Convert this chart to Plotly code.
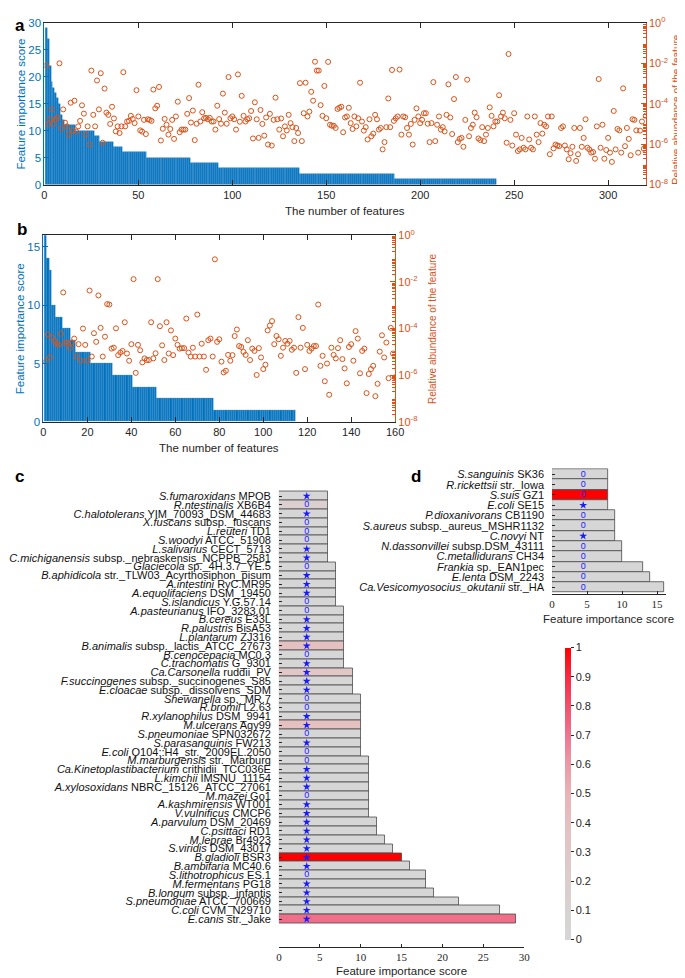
import plotly.graph_objects as go

W, H = 685, 978
BLUE = "#0072BD"
ORANGE = "#D95319"
INK = "#262626"
SANS = "Liberation Sans, Arial, sans-serif"
SERIF = "Liberation Serif, Times New Roman, serif"

# ---------------- Panel a data ----------------
a_scores = [29, 27, 22, 19, 18, 17, 16, 15, 13, 12,
            11, 11, 11, 11, 11, 11,
            10, 10, 10, 10, 10, 10, 10, 10, 10, 10,
            9, 9, 9,
            8, 8, 8, 8, 8, 8, 8,
            7, 7, 7, 7, 7,
            6, 6, 6, 6, 6, 6, 6, 6, 6, 6, 6, 6, 6,
            5, 5, 5, 5, 5, 5, 5, 5, 5, 5, 5, 5, 5, 5, 5, 5, 5, 5, 5, 5, 5, 5, 5,
            4, 4, 4, 4, 4, 4, 4, 4, 4, 4, 4, 4, 4, 4, 4,
            3, 3, 3, 3, 3, 3, 3, 3, 3, 3, 3, 3, 3, 3, 3, 3, 3, 3, 3, 3, 3, 3,
            3, 3, 3, 3, 3, 3, 3, 3, 3, 3, 3, 3, 3, 3, 3, 3, 3, 3, 3, 3, 3,
            2, 2, 2, 2, 2, 2, 2, 2, 2, 2, 2, 2, 2, 2, 2, 2, 2, 2, 2, 2, 2, 2, 2, 2, 2, 2,
            2, 2, 2, 2, 2, 2, 2, 2, 2, 2, 2, 2, 2, 2, 2, 2, 2, 2, 2, 2, 2, 2, 2, 2, 2,
            1, 1, 1, 1, 1, 1, 1, 1, 1, 1, 1, 1, 1, 1, 1, 1, 1, 1, 1, 1, 1, 1, 1, 1, 1, 1, 1,
            1, 1, 1, 1, 1, 1, 1, 1, 1, 1, 1, 1, 1, 1, 1, 1, 1, 1, 1, 1, 1, 1, 1, 1, 1, 1, 1]

# log10 of relative abundance, features 1..320
a_log_abund = [
    -2.11, -5.02, -4.76, -4.28, -5.00, -4.76, -4.68, -2.00, -5.22, -4.28,
    -4.94, -5.12, -5.53, -3.95, -5.33, -3.85, -5.38, -5.12, -4.85, -4.08,
    -4.49, -5.53, -5.12, -6.02, -2.36, -4.55, -5.12, -2.85, -4.28, -2.49,
    -5.93, -3.25, -4.44, -4.55, -5.00, -4.15, -4.73, -5.37, -5.12, -5.45,
    -5.12, -2.44, -5.12, -4.88, -4.85, -4.60, -4.75, -4.96, -3.33, -4.63,
    -5.32, -5.38, -4.80, -5.50, -4.77, -4.80, -4.85, -3.30, -4.23, -4.10,
    -3.17, -5.82, -5.24, -4.75, -5.04, -5.53, -5.25, -4.80, -5.74, -4.63,
    -3.90, -5.41, -5.28, -5.28, -5.28, -4.50, -3.72, -4.93, -4.34, -5.80,
    -4.99, -3.06, -4.88, -4.42, -4.72, -4.70, -4.77, -4.70, -4.88, -4.88,
    -5.28, -4.10, -4.76, -4.99, -3.50, -4.44, -4.99, -2.68, -4.72, -4.63,
    -4.77, -5.28, -2.55, -4.89, -3.61, -4.60, -4.88, -4.77, -4.72, -4.36,
    -5.72, -3.93, -4.77, -5.69, -4.31, -5.00, -5.58, -4.68, -6.02, -4.50,
    -6.07, -4.80, -3.70, -4.77, -5.28, -4.73, -5.61, -5.12, -5.32, -4.55,
    -4.96, -5.16, -5.85, -5.20, -5.45, -2.98, -5.85, -4.47, -2.96, -4.63,
    -4.39, -3.41, -3.85, -1.92, -2.36, -2.36, -4.07, -4.60, -3.12, -4.72,
    -1.93, -5.04, -5.09, -5.09, -5.20, -4.26, -4.20, -4.15, -5.41, -4.68,
    -4.63, -4.20, -4.96, -5.25, -4.63, -5.12, -4.72, -2.96, -4.88, -5.33,
    -5.16, -5.77, -4.77, -5.61, -5.48, -4.55, -4.77, -5.28, -5.20, -6.26,
    -5.90, -5.16, -3.74, -5.16, -2.33, -4.85, -4.72, -4.63, -2.31, -5.53,
    -4.63, -4.67, -5.20, -5.53, -5.00, -6.02, -4.80, -4.23, -4.63, -4.96,
    -4.80, -4.47, -4.47, -4.99, -5.90, -4.96, -2.93, -5.85, -5.04, -4.63,
    -5.28, -5.16, -5.37, -4.55, -3.04, -4.68, -5.50, -3.77, -2.68, -5.90,
    -5.74, -5.69, -6.13, -4.80, -2.81, -5.61, -5.20, -5.04, -4.44, -4.67,
    -5.72, -5.80, -5.16, -5.85, -5.53, -5.20, -4.18, -4.60, -5.12, -4.88,
    -4.88, -3.58, -4.63, -4.44, -4.72, -5.93, -1.54, -4.80, -6.07, -4.47,
    -5.53, -6.34, -6.26, -5.69, -6.18, -6.26, -4.63, -5.77, -6.18, -6.26,
    -4.63, -5.53, -5.90, -4.96, -5.48, -5.04, -5.12, -4.63, -6.50, -4.63,
    -6.21, -6.02, -6.07, -6.10, -5.20, -5.12, -6.07, -6.26, -6.75, -6.45,
    -6.13, -5.20, -6.83, -6.50, -5.20, -6.13, -5.69, -4.77, -6.18, -6.26,
    -6.42, -6.39, -6.72, -5.12, -2.78, -6.18, -5.04, -6.72, -6.29, -5.69,
    -6.42, -6.88, -4.36, -6.26, -5.25, -5.32, -6.42, -3.24, -6.10, -5.20,
    -5.74, -6.55, -4.77, -4.80, -5.32, -6.42, -5.33, -4.88, -6.23, -4.60]

# ---------------- Panel b data ----------------
b_scores = [16, 14, 13, 10, 10, 9, 9, 9, 8, 8, 8, 8, 7, 7,
            6, 6, 6, 6, 6, 6, 6,
            5, 5, 5, 5, 5, 5, 5, 5, 5, 5,
            4, 4, 4, 4, 4, 4, 4, 4, 4,
            3, 3, 3, 3, 3, 3, 3, 3, 3, 3, 3,
            2, 2, 2, 2, 2, 2, 2, 2, 2, 2, 2, 2, 2, 2, 2, 2, 2, 2, 2, 2, 2, 2, 2, 2, 2, 2,
            1, 1, 1, 1, 1, 1, 1, 1, 1, 1, 1, 1, 1, 1, 1, 1, 1, 1, 1, 1,
            1, 1, 1, 1, 1, 1, 1, 1, 1, 1, 1, 1, 1, 1, 1, 1, 1]

b_log_abund = [
    -5.42, -4.25, -5.24, -4.39, -4.53, -4.65, -4.70, -4.22, -2.45, -4.60,
    -4.60, -4.84, -4.60, -4.43, -5.20, -4.67, -5.38, -4.00, -4.70, -5.38,
    -2.37, -5.20, -4.20, -4.57, -2.58, -3.97, -5.20, -4.35, -2.95, -2.97,
    -4.86, -4.82, -3.99, -5.14, -5.03, -4.96, -3.73, -5.07, -5.38, -4.67,
    -1.88, -5.90, -4.70, -4.93, -5.45, -5.28, -5.35, -5.35, -3.73, -5.28,
    -5.06, -1.88, -3.90, -4.72, -5.35, -3.73, -5.07, -4.08, -5.14, -4.43,
    -4.70, -4.86, -4.84, -4.84, -3.57, -5.03, -5.20, -4.82, -5.20, -3.40,
    -5.20, -4.65, -5.20, -5.77, -4.50, -4.43, -5.20, -1.03, -4.57, -4.46,
    -5.42, -5.88, -5.81, -5.13, -5.38, -5.14, -4.32, -4.04, -4.75, -4.79,
    -5.00, -5.13, -4.50, -5.35, -4.86, -4.96, -5.99, -4.84, -5.24, -5.74,
    -5.55, -4.08, -3.87, -3.68, -4.67, -4.32, -4.46, -5.17, -4.82, -4.53,
    -4.65, -4.53, -4.91, -4.82, -5.90, -3.51, -4.82, -3.97, -5.74, -4.70,
    -4.96, -4.86, -4.75, -4.75, -2.97, -5.60, -5.17, -6.26, -5.50, -6.84,
    -4.82, -5.13, -5.28, -4.84, -4.50, -5.31, -5.71, -6.35, -4.79, -4.67,
    -5.38, -4.11, -4.43, -5.92, -4.96, -4.86, -6.77, -5.95, -5.74, -5.60,
    -6.90, -6.37, -4.99, -4.29, -5.24, -4.60, -6.13, -3.97, -5.07, -6.09]

# ---------------- Panel c data ----------------
c_italic = ["S.fumaroxidans", "R.ntestinalis", "C.halotolerans", "X.fuscans", "L.reuteri",
            "S.woodyi", "L.salivarius", "C.michiganensis", "Glaciecola", "B.aphidicola",
            "A.intestini", "A.equolifaciens", "S.islandicus", "A.pasteurianus", "B.cereus",
            "R.palustris", "L.plantarum", "B.animalis", "B.cenocepacia", "C.trachomatis",
            "Ca.Carsonella", "F.succinogenes", "E.cloacae", "Shewanella", "R.bromii",
            "R.xylanophilus", "M.ulcerans", "S.pneumoniae", "S.parasanguinis", "E.coli",
            "M.marburgensis", "Ca.Kinetoplastibacterium", "L.kimchii", "A.xylosoxidans", "M.mazei",
            "A.kashmirensis", "V.vulnificus", "A.parvulum", "C.psittaci", "M.leprae",
            "S.viridis", "B.gladioli", "B.ambifaria", "S.lithotrophicus", "M.fermentans",
            "B.longum", "S.pneumoniae", "C.coli", "E.canis"]
c_strain = ["MPOB", "XB6B4", "YIM_70093_DSM_44683", "subsp._fuscans", "TD1",
            "ATCC_51908", "CECT_5713", "subsp._nebraskensis_NCPPB_2581", "sp._4H.3.7_YE.5",
            "str._TLW03_Acyrthosiphon_pisum",
            "RyC.MR95", "DSM_19450", "Y.G.57.14", "IFO_3283.01", "E33L",
            "BisA53", "ZJ316", "subsp._lactis_ATCC_27673", "MC0.3", "G_9301",
            "ruddii_PV", "subsp._succinogenes_S85", "subsp._dissolvens_SDM", "sp._MR.7", "L2.63",
            "DSM_9941", "Agy99", "SPN032672", "FW213", "O104::H4_str._2009EL.2050",
            "str._Marburg", "crithidii_TCC036E", "IMSNU_11154", "NBRC_15126_ATCC_27061", "Go1",
            "WT001", "CMCP6", "DSM_20469", "RD1", "Br4923",
            "DSM_43017", "BSR3", "MC40.6", "ES.1", "PG18",
            "subsp._infantis", "ATCC_700669", "CVM_N29710", "str._Jake"]
c_scores = [6, 6, 6, 6, 6, 6, 6, 6, 7, 7,
            7, 7, 7, 8, 8, 8, 8, 8, 8, 8,
            9, 9, 9, 10, 10, 10, 10, 10, 10, 10,
            11, 11, 11, 11, 11, 11, 11, 12, 12, 13,
            14, 15, 16, 18, 18, 19, 22, 27, 29]
c_color_value = [0, 0.15, 0, 0, 0, 0, 0, 0, 0, 0,
                 0, 0, 0, 0, 0, 0, 0, 0.4, 0, 0,
                 0.3, 0, 0, 0, 0, 0, 0.4, 0, 0, 0,
                 0, 0, 0, 0, 0, 0, 0, 0, 0, 0,
                 0, 1.0, 0, 0, 0, 0, 0, 0, 0.72]
c_mark = ["*", "o", "*", "o", "o", "o", "*", "*", "o", "*",
          "*", "*", "o", "o", "*", "*", "*", "*", "o", "*",
          "*", "*", "*", "o", "o", "*", "*", "o", "*", "o",
          "o", "*", "*", "*", "o", "*", "*", "*", "*", "*",
          "*", "*", "*", "o", "*", "*", "*", "*", "*"]

# ---------------- Panel d data ----------------
d_italic = ["S.sanguinis", "R.rickettsii", "S.suis", "E.coli", "P.dioxanivorans",
            "S.aureus", "C.novyi", "N.dassonvillei", "C.metallidurans", "Frankia",
            "E.lenta", "Ca.Vesicomyosocius_okutanii"]
d_strain = ["SK36", "str._Iowa", "GZ1", "SE15", "CB1190",
            "subsp._aureus_MSHR1132", "NT", "subsp.DSM_43111", "CH34", "sp._EAN1pec",
            "DSM_2243", "str._HA"]
d_scores = [8, 8, 8, 8, 9, 9, 9, 10, 10, 13, 14, 16]
d_color_value = [0, 0, 1.0, 0, 0, 0, 0, 0, 0, 0, 0, 0]
d_mark = ["o", "o", "o", "*", "o", "o", "*", "o", "o", "o", "o", "o"]

colorbar_ticks = [0, 0.1, 0.2, 0.3, 0.4, 0.5, 0.6, 0.7, 0.8, 0.9, 1]
log_ticks = [-8, -6, -4, -2, 0]

# ---------------- style constants ----------------
CSCALE = [[0.0, "#d6d6d6"], [0.2, "#dccdcd"], [0.4, "#e5c0c1"], [0.5, "#e9b3b7"],
          [0.6, "#eb9aa6"], [0.7, "#ee7690"], [0.8, "#f2506c"], [0.9, "#f72b42"],
          [1.0, "#ff0000"]]
C_MARK_X = 3.4
D_MARK_X = 4.45
MARK_BLUE = "#1a1aff"
LABEL_SIZE = 11


def px_x(p):
    return p / W


def px_y(p):
    return 1 - p / H


c_labels = [f"<i>{a}</i> {b}" for a, b in zip(c_italic, c_strain)]
d_labels = [f"<i>{a}</i> {b}" for a, b in zip(d_italic, d_strain)]

minor_vals = [k * 10 ** e for e in range(-8, 0) for k in range(2, 10)]
log_text = [f"10<sup>{e}</sup>" for e in log_ticks]

fig = go.Figure()

# Panel a
fig.add_trace(go.Bar(x=list(range(1, len(a_scores) + 1)), y=a_scores, width=1,
                     marker=dict(color=BLUE, line=dict(color="#4f97d4", width=0.4)),
                     xaxis="x", yaxis="y", showlegend=False))
fig.add_trace(go.Scatter(x=list(range(1, len(a_log_abund) + 1)), y=[10 ** v for v in a_log_abund],
                         mode="markers", xaxis="x", yaxis="y2", showlegend=False,
                         marker=dict(symbol="circle-open", size=5, color=ORANGE, line=dict(width=1))))
# Panel b
fig.add_trace(go.Bar(x=list(range(1, len(b_scores) + 1)), y=b_scores, width=1,
                     marker=dict(color=BLUE, line=dict(color="#4f97d4", width=0.4)),
                     xaxis="x2", yaxis="y3", showlegend=False))
fig.add_trace(go.Scatter(x=list(range(1, len(b_log_abund) + 1)), y=[10 ** v for v in b_log_abund],
                         mode="markers", xaxis="x2", yaxis="y4", showlegend=False,
                         marker=dict(symbol="circle-open", size=5, color=ORANGE, line=dict(width=1))))

# Panel c
fig.add_trace(go.Bar(y=c_labels, x=c_scores, orientation="h", xaxis="x3", yaxis="y5",
                     showlegend=False,
                     marker=dict(color=c_color_value, colorscale=CSCALE, cmin=0, cmax=1,
                                 line=dict(color="#4a4a4a", width=0.8),
                                 showscale=True,
                                 colorbar=dict(x=px_x(564), xanchor="left", y=px_y(937),
                                               yanchor="bottom", len=296 / H, lenmode="fraction",
                                               thickness=6, xpad=0, ypad=0, outlinewidth=0,
                                               tickvals=colorbar_ticks,
                                               ticktext=[f"{t:g}" for t in colorbar_ticks],
                                               ticks="outside", ticklen=3, tickcolor=INK,
                                               tickfont=dict(family=SANS, size=11, color=INK)))))
fig.add_trace(go.Scatter(y=[l for l, m in zip(c_labels, c_mark) if m == "*"],
                         x=[C_MARK_X for m in c_mark if m == "*"], mode="markers",
                         xaxis="x3", yaxis="y5", showlegend=False,
                         marker=dict(symbol="star", size=6, color=MARK_BLUE)))
fig.add_trace(go.Scatter(y=[l for l, m in zip(c_labels, c_mark) if m == "o"],
                         x=[C_MARK_X for m in c_mark if m == "o"], mode="text", text="0",
                         xaxis="x3", yaxis="y5", showlegend=False,
                         textfont=dict(family=SANS, size=9, color=MARK_BLUE)))

# Panel d
fig.add_trace(go.Bar(y=d_labels, x=d_scores, orientation="h", xaxis="x4", yaxis="y6",
                     showlegend=False,
                     marker=dict(color=d_color_value, colorscale=CSCALE, cmin=0, cmax=1,
                                 line=dict(color="#4a4a4a", width=0.8), showscale=False)))
fig.add_trace(go.Scatter(y=[l for l, m in zip(d_labels, d_mark) if m == "*"],
                         x=[D_MARK_X for m in d_mark if m == "*"], mode="markers",
                         xaxis="x4", yaxis="y6", showlegend=False,
                         marker=dict(symbol="star", size=6, color=MARK_BLUE)))
fig.add_trace(go.Scatter(y=[l for l, m in zip(d_labels, d_mark) if m == "o"],
                         x=[D_MARK_X for m in d_mark if m == "o"], mode="text", text="0",
                         xaxis="x4", yaxis="y6", showlegend=False,
                         textfont=dict(family=SANS, size=9, color=MARK_BLUE)))

tick_font = dict(family=SANS, size=11, color=INK)
common = dict(showgrid=False, zeroline=False, showline=True, ticks="inside")

fig.update_layout(
    width=W, height=H, margin=dict(l=0, r=0, t=0, b=0),
    paper_bgcolor="white", plot_bgcolor="white", bargap=0,
    font=dict(family=SANS, color=INK),
    xaxis=dict(domain=[px_x(34), px_x(646)], anchor="y", range=[0, 320],
               tickvals=[0, 50, 100, 150, 200, 250, 300], ticklen=5, linecolor=INK,
               tickcolor=INK, mirror="ticks", tickfont=tick_font, **common),
    yaxis=dict(domain=[px_y(171), px_y(7)], anchor="x", range=[0, 30],
               tickvals=[0, 5, 10, 15, 20, 25, 30], ticklen=5, linecolor=BLUE, tickcolor=BLUE,
               tickfont=dict(family=SANS, size=11.5, color=BLUE), **common),
    yaxis2=dict(overlaying="y", side="right", anchor="x", type="log", range=[-8, 0],
                tickvals=[10 ** e for e in log_ticks], ticktext=log_text, ticklen=5,
                linecolor=ORANGE, tickcolor=ORANGE,
                minor=dict(tickvals=minor_vals, ticks="inside", ticklen=3, tickcolor=ORANGE),
                tickfont=dict(family=SANS, size=11, color=ORANGE), **common),
    xaxis2=dict(domain=[px_x(33), px_x(391)], anchor="y3", range=[0, 160],
                tickvals=[0, 20, 40, 60, 80, 100, 120, 140, 160], ticklen=5, linecolor=INK,
                tickcolor=INK, mirror="ticks", tickfont=tick_font, **common),
    yaxis3=dict(domain=[px_y(411.7), px_y(222.5)], anchor="x2", range=[0, 16],
                tickvals=[0, 5, 10, 15], ticklen=5, linecolor=BLUE, tickcolor=BLUE,
                tickfont=dict(family=SANS, size=11.5, color=BLUE), **common),
    yaxis4=dict(overlaying="y3", side="right", anchor="x2", type="log", range=[-8, 0],
                tickvals=[10 ** e for e in log_ticks], ticktext=log_text, ticklen=5,
                linecolor=ORANGE, tickcolor=ORANGE,
                minor=dict(tickvals=minor_vals, ticks="inside", ticklen=3, tickcolor=ORANGE),
                tickfont=dict(family=SANS, size=11, color=ORANGE), **common),
    xaxis3=dict(domain=[px_x(272.7), px_x(522.3)], anchor="y5", range=[0, 30],
                tickvals=[0, 5, 10, 15, 20, 25, 30], ticklen=3, linecolor=INK, tickcolor=INK,
                tickfont=dict(family=SERIF, size=11, color=INK), **common),
    yaxis5=dict(domain=[px_y(944.3), px_y(459)], anchor="x3", autorange="reversed",
                type="category", tickmode="array", tickvals=c_labels, ticktext=c_labels,
                ticklen=3, linecolor=INK, tickcolor=INK, showline=False,
                ticks="inside", ticklabelstandoff=7, showgrid=False, zeroline=False,
                tickfont=dict(family=SANS, size=LABEL_SIZE, color="#111111")),
    xaxis4=dict(domain=[px_x(550.7), px_x(666.2)], anchor="y6", range=[0, 16.2],
                tickvals=[0, 5, 10, 15], ticklen=3, linecolor=INK, tickcolor=INK,
                tickfont=dict(family=SERIF, size=11, color=INK), **common),
    yaxis6=dict(domain=[px_y(586), px_y(458.7)], anchor="x4", autorange="reversed",
                type="category", tickmode="array", tickvals=d_labels, ticktext=d_labels,
                ticklen=3, linecolor=INK, tickcolor=INK, showline=False,
                ticks="inside", ticklabelstandoff=7, showgrid=False, zeroline=False,
                tickfont=dict(family=SANS, size=LABEL_SIZE, color="#111111")),
)


def note(text, x, y, size=11.5, color=INK, angle=0, bold=False):
    fig.add_annotation(text=f"<b>{text}</b>" if bold else text, x=px_x(x), y=px_y(y),
                       xref="paper", yref="paper", showarrow=False, textangle=angle,
                       xanchor="center", yanchor="middle",
                       font=dict(family=SANS, size=size, color=color))


# axis titles
note("Feature importance score", 10, 89, color=BLUE, angle=-90)
note("Relative abundance of the feature", 678, 95, size=10, color=ORANGE, angle=-90)
note("The number of features", 340, 198)
note("Feature importance score", 10, 317, color=BLUE, angle=-90)
note("Relative abundance of the feature", 429, 317, size=10, color=ORANGE, angle=-90)
note("The number of features", 212, 438)
note("Feature importance score", 397, 969)
note("Feature importance score", 608, 612)
# panel letters
note("a", 9, 10, size=17, color="black", bold=True)
note("b", 11, 217, size=17, color="black", bold=True)
note("c", 9, 467, size=17, color="black", bold=True)
note("d", 412, 467, size=17, color="black", bold=True)

fig.write_html("out.html")
